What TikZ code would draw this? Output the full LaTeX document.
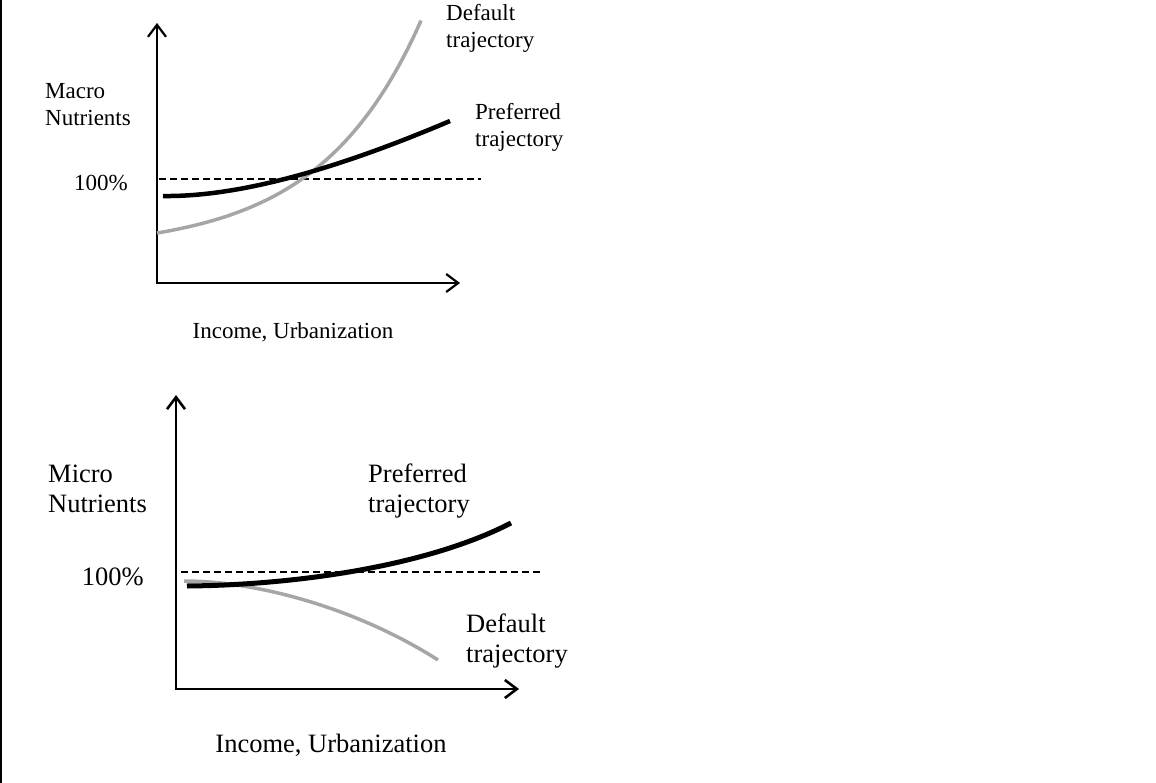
\documentclass[tikz,border=0pt]{standalone}
\usepackage{fontspec}
\setmainfont{Liberation Serif}
\usetikzlibrary{arrows.meta}
\definecolor{dfltgray}{RGB}{166,166,166}

\begin{document}
\begin{tikzpicture}[x=1pt,y=-1pt,
		axis/.style={line width=2.2pt,
			{Straight Barb[length=12pt,width=18pt]}-{Straight Barb[length=12pt,width=18pt]}},
		pref/.style={line width=4.5pt},
		dflt/.style={line width=3.5pt,draw=dfltgray},
		refline/.style={line width=1.4pt,dash pattern=on 7pt off 4pt},
		txtA/.style={inner sep=0pt,align=left,font=\fontsize{23}{27}\selectfont},
		txtB/.style={inner sep=0pt,align=left,font=\fontsize{26.5}{30}\selectfont}]
		\useasboundingbox (0,0) rectangle (1156,783);

		% Frame line on the left
		\draw[line width=1.5pt] (0.75,0) -- (0.75,783);

		% Upper panel: macro nutrients
		\coordinate (ytopA) at (157,23);
		\coordinate (origA) at (157,283);
		\coordinate (xendA) at (460,283);
		\draw[axis] (ytopA) -- (origA) -- (xendA);

		\coordinate (refA1) at (159,179);
		\coordinate (refA2) at (481,179);
		\draw[refline] (refA1) -- (refA2);

		\draw[dflt] plot[domain=157:421,samples=60]
			(\x,{250-17*exp(0.00985*(\x-157))});
		\draw[pref] (163,196) .. controls (235,197) and (330,172) .. (450,121);

		% labels (anchored on the last line)
		\node[txtA,anchor=base west] (macro) at (45,126) {Macro\\Nutrients};
		\node[txtA,anchor=base east] (pctA) at (128,191) {100\%};
		\node[txtA,anchor=base west] (dfltA) at (446,48) {Default\\trajectory};
		\node[txtA,anchor=base west] (prefA) at (475,147) {Preferred\\trajectory};
		\node[txtA,anchor=base] (incA) at (293,339) {Income, Urbanization};

		% Lower panel: micro nutrients
		\coordinate (ytopB) at (176,395);
		\coordinate (origB) at (176,689);
		\coordinate (xendB) at (519,689);
		\draw[axis,line width=2.6pt] (ytopB) -- (origB) -- (xendB);

		\coordinate (refB1) at (181,572);
		\coordinate (refB2) at (542,572);
		\draw[refline] (refB1) -- (refB2);

		\draw[dflt] (184,581) .. controls (260,581) and (360,610) .. (438,660);
		\draw[pref,line width=5pt] (187,586) .. controls (300,585) and (430,565) .. (511,523);

		\node[txtB,anchor=base west] (micro) at (48,512) {Micro\\Nutrients};
		\node[txtB,anchor=base east] (pctB) at (144,585) {100\%};
		\node[txtB,anchor=base west] (prefB) at (368,512) {Preferred\\trajectory};
		\node[txtB,anchor=base west] (dfltB) at (466,662) {Default\\trajectory};
		\node[txtB,anchor=base] (incB) at (331,752) {Income, Urbanization};
	\end{tikzpicture}
\end{document}
